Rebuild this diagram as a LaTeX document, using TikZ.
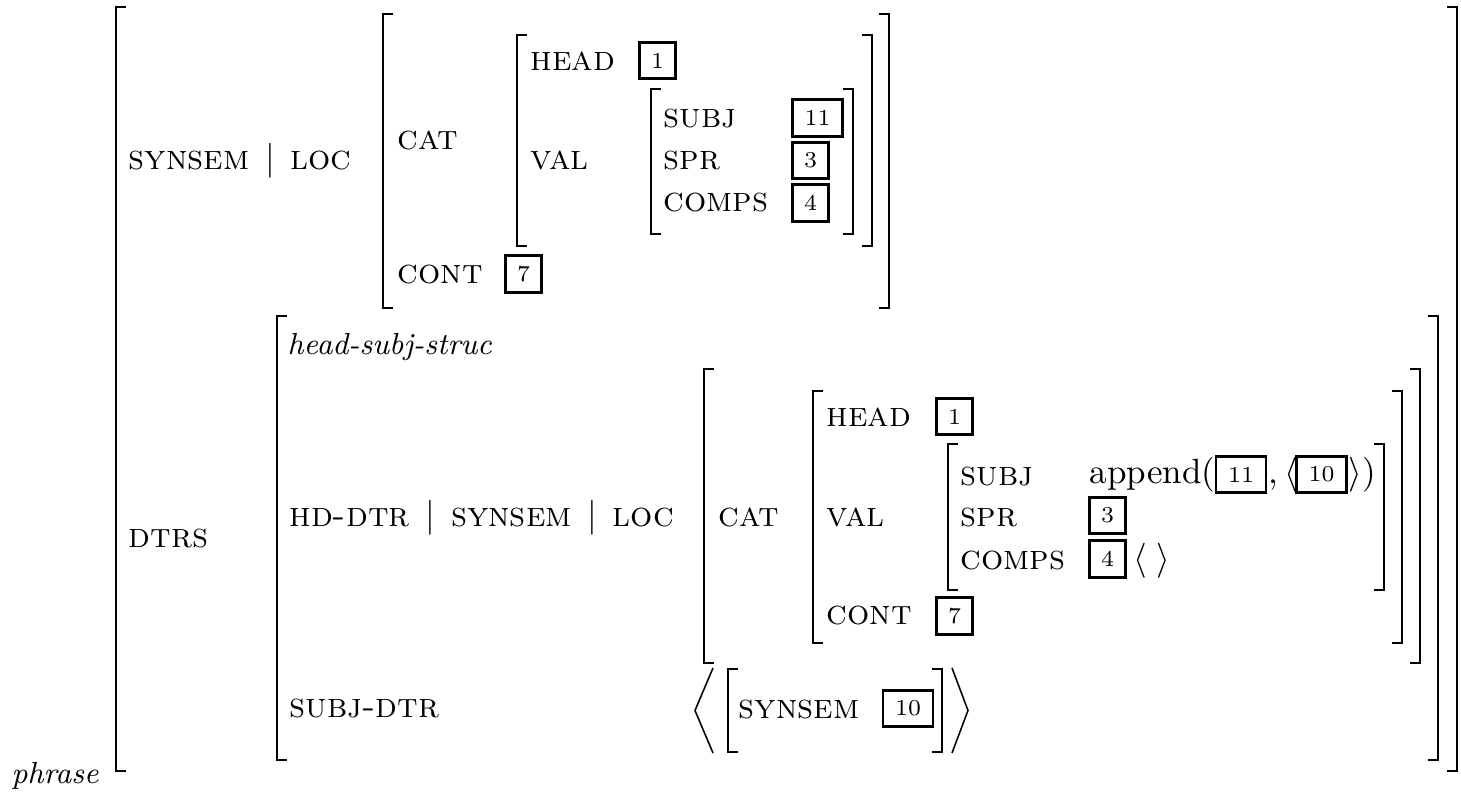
\documentclass[tikz,border=0pt]{standalone}
\usepackage{tikz}
\usetikzlibrary{positioning}
\usepackage{amsmath}

\begin{document}
\begin{tikzpicture}[
  x=0.2857pt, y=-0.2857pt,
  lbl/.style={anchor=base west, inner sep=0pt, font=\scshape},
  plain/.style={anchor=base west, inner sep=0pt},
  typ/.style={anchor=base west, inner sep=0pt, font=\fontsize{8.7}{10}\selectfont\itshape},
  tag/.style={draw, line width=0.8pt, inner sep=0pt, minimum width=10.5pt,
              minimum height=10.5pt, font=\fontsize{6.5}{7}\selectfont},
  tagw/.style={tag, minimum width=14.3pt},
  brk/.style={line width=0.75pt},
  ang/.style={line width=0.45pt},
]
\useasboundingbox (0,0) rectangle (1461,792);

% outer phrase matrix
\draw[brk] (126,7) -| (116,771) -- ++(10,0);
\draw[brk] (1447,7) -| (1457,771) -- ++(-10,0);
\node[typ] (phrase) at (11,784) {phrase};

% SYNSEM | LOC
\node[lbl] (synsemloc) at (128,170) {synsem\hspace{4.5pt}$|$\hspace{4.5pt}loc};
\draw[brk] (393,14) -| (383,308) -- ++(10,0);
\draw[brk] (879,14) -| (889,308) -- ++(-10,0);
\node[lbl] (cat) at (397,150) {cat};
\node[lbl] (cont) at (397,284) {cont};
\node[tag] (contTag) at (523.5,274) {7};

\draw[brk] (527,35) -| (517,246) -- ++(10,0);
\draw[brk] (862,35) -| (872,246) -- ++(-10,0);
\node[lbl] (head) at (530,71) {head};
\node[tag] (headTag) at (657.5,60.5) {1};
\node[lbl] (val) at (530,170) {val};

\draw[brk] (661,89) -| (651,234) -- ++(10,0);
\draw[brk] (843,89) -| (853,234) -- ++(-10,0);
\node[lbl] (subj) at (663,128) {subj};
\node[tagw] (subjTag) at (817.5,118) {11};
\node[lbl] (spr) at (663,170) {spr};
\node[tag] (sprTag) at (810.5,160.5) {3};
\node[lbl] (comps) at (663,212) {comps};
\node[tag] (compsTag) at (810.5,203) {4};

% DTRS
\node[lbl] (dtrs) at (128,548) {dtrs};
\draw[brk] (287,316) -| (277,760) -- ++(10,0);
\draw[brk] (1428,316) -| (1438,760) -- ++(-10,0);
\node[typ] (hss) at (287,355) {head-subj-struc};
\node[lbl] (hdloc) at (289,527) {hd-dtr\hspace{4.5pt}$|$\hspace{4.5pt}synsem\hspace{4.5pt}$|$\hspace{4.5pt}loc};

\draw[brk] (714,369) -| (704,663) -- ++(10,0);
\draw[brk] (1410,369) -| (1420,663) -- ++(-10,0);
\node[lbl] (hdcat) at (718,527) {cat};

\draw[brk] (823,391) -| (813,643) -- ++(10,0);
\draw[brk] (1392,391) -| (1402,643) -- ++(-10,0);
\node[lbl] (hdhead) at (826,427) {head};
\node[tag] (hdheadTag) at (954.5,416.5) {1};
\node[lbl] (hdval) at (826,527) {val};
\node[lbl] (hdcont) at (826,625) {cont};
\node[tag] (hdcontTag) at (954.5,616) {7};

\draw[brk] (958,444) -| (948,590) -- ++(10,0);
\draw[brk] (1374,444) -| (1384,590) -- ++(-10,0);
\node[lbl] (hdsubj) at (960,486) {subj};
\node[plain] (app) at (1089,484) {append(};
\node[tagw] (appA) at (1241,474.5) {11};
\node[plain] (comma) at (1268,484) {,\,$\langle$};
\node[tagw] (appB) at (1321.5,474.5) {10};
\node[plain] (close) at (1348,484) {$\rangle$)};
\node[lbl] (hdspr) at (960,527) {spr};
\node[tag] (hdsprTag) at (1107.5,515.5) {3};
\node[lbl] (hdcomps) at (960,570) {comps};
\node[tag] (hdcompsTag) at (1107.5,559) {4};
\node[plain] (empty) at (1133,570) {$\langle\;\rangle$};

% SUBJ-DTR
\node[lbl] (sdtr) at (289,718) {subj-dtr};
\draw[ang] (713,668) -- (695,710.5) -- (713,753);
\draw[ang] (952,668) -- (968,710.5) -- (952,753);
\draw[brk] (738,669) -| (728,752) -- ++(10,0);
\draw[brk] (932,669) -| (942,752) -- ++(-10,0);
\node[lbl] (sdsynsem) at (738,719) {synsem};
\node[tagw] (sdTag) at (908,708.5) {10};
\end{tikzpicture}
\end{document}
